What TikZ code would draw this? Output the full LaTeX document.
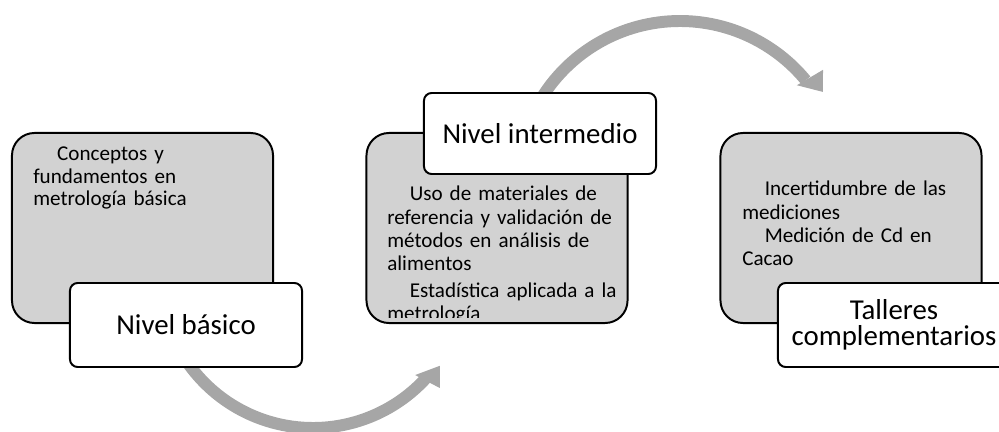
\documentclass[tikz,border=0pt]{standalone}
\usepackage{fontspec}
\setmainfont{Carlito}
\usetikzlibrary{positioning,calc}

\begin{document}
\begin{tikzpicture}[x=0.025cm,y=0.025cm,
  caja/.style={draw=black,line width=1.4pt,fill=gray!35,rounded corners=16pt,minimum width=6.525cm,minimum height=4.75cm},
  nivel/.style={draw=black,line width=1.4pt,fill=white,rounded corners=5.5pt,minimum width=5.8cm,minimum height=2.1cm,align=center,font=\fontsize{20.5}{18.5}\selectfont},
  tema/.style={anchor=base west,inner sep=0pt,text width=6.2cm,align=left,font=\fontsize{15}{16.5}\selectfont},
  flecha/.style={draw=gray!70,line width=8.5pt},
  punta/.style={fill=gray!70}]
  \useasboundingbox (0,0) rectangle (999,-432);

  % flechas
  \coordinate (c1) at (313,-275);
  \coordinate (c2) at (680,-184);
  \draw[flecha] (c1) ++(210:153) arc[start angle=210,end angle=318,radius=153];
  \fill[punta] ($(c1)+(-44.4:143)$) -- ($(c1)+(-35.6:156)$) -- ($(c1)+(-41.7:170)$) -- cycle;
  \draw[flecha] (c2) ++(150:163) arc[start angle=150,end angle=39.5,radius=163];
  \fill[punta] ($(c2)+(40.2:153)$) -- ($(c2)+(32.8:170)$) -- ($(c2)+(38.6:183)$) -- cycle;

  % cajas grises
  \node[caja] (g1) at (142.5,-228) {};
  \node[caja] (g2) at (497,-228) {};
  \node[caja] (g3) at (851,-228) {};

  \node[tema,font=\fontsize{15}{16}\selectfont] (t1) at (33,-161) {\hspace*{17pt}Conceptos y\\fundamentos en\\metrología básica};
  \begin{scope}
    \clip (366,-133) rectangle (628,-317);
    \node[tema] (t2) at (387,-201) {\hspace*{16pt}Uso de materiales de\\referencia y validación de\\métodos en análisis de\\alimentos\\[2.5pt]
      \hspace*{16pt}Estadística aplicada a la\\metrología};
  \end{scope}
  \node[tema] (t3) at (742,-196) {\hspace*{16pt}Incertidumbre de las\\mediciones\\\hspace*{16pt}Medición de Cd en\\Cacao};

  % niveles
  \node[nivel] (n1) at (186,-325) {Nivel básico};
  \node[nivel,minimum height=2.025cm] (n2) at (540,-133.5) {Nivel intermedio};
  \node[nivel] (n3) at (894,-325) {Talleres\\complementarios};
\end{tikzpicture}
\end{document}
